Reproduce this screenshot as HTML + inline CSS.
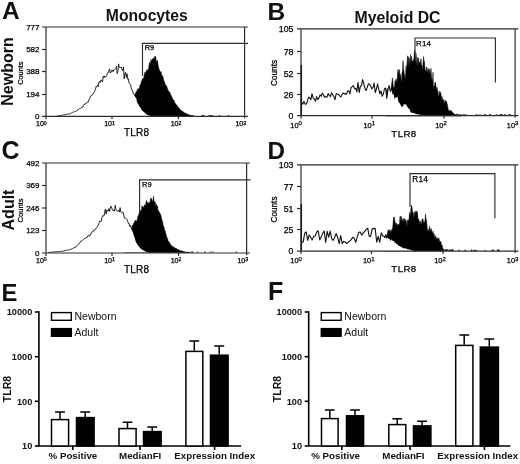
<!DOCTYPE html>
<html><head><meta charset="utf-8"><title>Figure</title>
<style>
html,body{margin:0;padding:0;background:#fff;}
body{width:520px;height:464px;overflow:hidden;font-family:"Liberation Sans",sans-serif;}
svg{display:block;will-change:transform;opacity:0.999;filter:blur(0.35px);font-family:"Liberation Sans",sans-serif;}
.t{font-size:8px;fill:#111;}
.s text{stroke:#000;stroke-width:0.25px;fill:#000;}
.b{font-weight:bold;fill:#111;}
</style></head><body>
<svg width="520" height="464" viewBox="0 0 520 464">
<rect width="520" height="464" fill="#fff"/>

<path d="M126 116 L126 116 L126.5 114.8 L127 113.5 L127.5 112.3 L128 111.2 L128.5 109.8 L129 108.6 L129.5 107.7 L130 105.9 L130.5 104.7 L131 103.8 L131.5 102.5 L132 101 L132.5 100 L133 98.8 L133.5 98.1 L134 96 L134.5 94.9 L135 94 L135.5 94.2 L136 91.6 L136.5 91.7 L137 91.2 L137.5 88.8 L138 89.4 L138.5 89.5 L139 88 L139.5 88.6 L140 85 L140.5 84.7 L141 83.6 L141.5 80.7 L142 81.7 L142.5 78.6 L143 80.1 L143.5 77.8 L144 77.3 L144.5 73.7 L145 72.3 L145.5 73.5 L146 71.3 L146.5 71.4 L147 69.5 L147.5 70.1 L148 70.2 L148.5 69.4 L149 65.7 L149.5 62.3 L150 63.9 L150.5 63.9 L151 59.6 L151.5 60.9 L152 60.1 L152.5 58.9 L153 58.5 L153.5 58.3 L154 59.6 L154.5 56.6 L155 57.8 L155.5 56.2 L156 59.4 L156.5 62.5 L157 61.3 L157.5 60.5 L158 64.9 L158.5 67.2 L159 69.1 L159.5 70.5 L160 71 L160.5 73.2 L161 71.7 L161.5 74.9 L162 75.8 L162.5 75.8 L163 77.1 L163.5 80 L164 80.9 L164.5 81.9 L165 83.8 L165.5 86 L166 85.2 L166.5 86 L167 87.4 L167.5 89.3 L168 89.9 L168.5 91.1 L169 92 L169.5 92 L170 92.9 L170.5 94.3 L171 95.3 L171.5 96.2 L172 97.5 L172.5 98.4 L173 99.6 L173.5 100.3 L174 100.3 L174.5 101.8 L175 103.1 L175.5 103.8 L176 104.6 L176.5 104.9 L177 105.5 L177.5 106.6 L178 106.8 L178.5 107.7 L179 108 L179.5 108.9 L180 109.3 L180.5 110.1 L181 110.4 L181.5 110.7 L182 110.9 L182.5 111.3 L183 111.9 L183.5 112 L184 112.4 L184.5 112.8 L185 113.1 L185.5 113.3 L186 113.6 L186.5 113.8 L187 114 L187.5 114.2 L188 114.4 L188.5 114.6 L189 114.8 L189.5 115 L190 115.2 L190.5 115.4 L191 115.5 L191.5 115.6 L192 115.7 L192.5 115.7 L193 115.8 L193.5 115.9 L194 116 L194 116Z" fill="#000" stroke="#000" stroke-width="0.6" stroke-linejoin="round"/>
<rect x="218.6" y="115" width="1.5" height="1" fill="#333"/>
<rect x="208.6" y="115" width="1.5" height="1" fill="#333"/>
<rect x="227.9" y="115" width="1.5" height="1" fill="#333"/>
<rect x="201.4" y="115" width="1.5" height="1" fill="#333"/>
<rect x="202.9" y="115" width="1.5" height="1" fill="#333"/>
<rect x="210.3" y="115" width="1.5" height="1" fill="#333"/>
<rect x="211.4" y="115" width="1.5" height="1" fill="#333"/>
<path d="M57 116 L57 116 L57.7 115.9 L58.4 115.8 L59.1 115.7 L59.8 115.6 L60.5 115.5 L61.2 115.4 L61.9 115.2 L62.6 115.2 L63.3 114.9 L64 114.8 L64.7 114.7 L65.4 114.6 L66.1 114.4 L66.8 114.4 L67.5 114.1 L68.2 114 L68.9 114 L69.6 113.8 L70.3 113.7 L71 113.2 L71.7 112.7 L72.4 112.4 L73.1 112.3 L73.8 112 L74.5 111.4 L75.2 111.5 L75.9 111.4 L76.6 110.9 L77.3 110 L78 110 L78.7 109.2 L79.4 108.7 L80.1 108.4 L80.8 108.4 L81.5 107.4 L82.2 107 L82.9 107.1 L83.6 105.4 L84.3 103.9 L85 104.4 L85.7 103.6 L86.4 103.7 L87.1 102.2 L87.8 102.1 L88.5 101.9 L89.2 98.9 L89.9 98.4 L90.6 96.1 L91.3 95.5 L92 95.4 L92.7 94.1 L93.4 93.8 L94.1 92.2 L94.8 90.9 L95.5 89.2 L96.2 86.4 L96.9 87.1 L97.6 85 L98.3 86.4 L99 81.9 L99.7 81.5 L100.4 82.6 L101.1 79.8 L101.8 80.8 L102.5 81.9 L103.2 76.3 L103.9 77.8 L104.6 75.9 L105.3 76.9 L106 76.9 L106.7 75.5 L107.4 73.1 L108.1 73.1 L108.8 71.2 L109.5 68.8 L110.2 73 L110.9 72.8 L111.6 70.3 L112.3 70.1 L113 71.8 L113.7 70 L114.4 69.9 L115.1 69.2 L115.8 68.6 L116.5 66.4 L117.2 73.6 L117.9 71.5 L118.6 63.9 L119.3 67.3 L120 67.6 L120.7 67.3 L121.4 67 L122.1 69.7 L122.8 70.8 L123.5 66.9 L124.2 78.9 L124.9 73.4 L125.6 72.3 L126.3 77.4 L127 73.6 L127.7 79.3 L128.4 78.8 L129.1 83.4 L129.8 83.7 L130.5 84.5 L131.2 87.8 L131.9 89.9 L132.6 90.8 L133.3 93.7 L134 93.7 L134.7 95.6 L135.4 97.8 L136.1 97.6 L136.8 101.3 L137.5 103.2 L138.2 104.1 L138.9 105.3 L139.6 107.1 L140.3 107.2 L141 109.1 L141.7 109.9 L142.4 111 L143.1 111.3 L143.8 111.9 L144.5 112.5 L145.2 113.3 L145.9 113.9 L146.6 114.3 L147.3 114.9 L148 115.1 L148.7 115.4 L149.4 115.6 L150.1 115.7 L150.8 115.9 L150.8 116Z" fill="#fff" stroke="none"/>
<path d="M57 116 L57.7 115.9 L58.4 115.8 L59.1 115.7 L59.8 115.6 L60.5 115.5 L61.2 115.4 L61.9 115.2 L62.6 115.2 L63.3 114.9 L64 114.8 L64.7 114.7 L65.4 114.6 L66.1 114.4 L66.8 114.4 L67.5 114.1 L68.2 114 L68.9 114 L69.6 113.8 L70.3 113.7 L71 113.2 L71.7 112.7 L72.4 112.4 L73.1 112.3 L73.8 112 L74.5 111.4 L75.2 111.5 L75.9 111.4 L76.6 110.9 L77.3 110 L78 110 L78.7 109.2 L79.4 108.7 L80.1 108.4 L80.8 108.4 L81.5 107.4 L82.2 107 L82.9 107.1 L83.6 105.4 L84.3 103.9 L85 104.4 L85.7 103.6 L86.4 103.7 L87.1 102.2 L87.8 102.1 L88.5 101.9 L89.2 98.9 L89.9 98.4 L90.6 96.1 L91.3 95.5 L92 95.4 L92.7 94.1 L93.4 93.8 L94.1 92.2 L94.8 90.9 L95.5 89.2 L96.2 86.4 L96.9 87.1 L97.6 85 L98.3 86.4 L99 81.9 L99.7 81.5 L100.4 82.6 L101.1 79.8 L101.8 80.8 L102.5 81.9 L103.2 76.3 L103.9 77.8 L104.6 75.9 L105.3 76.9 L106 76.9 L106.7 75.5 L107.4 73.1 L108.1 73.1 L108.8 71.2 L109.5 68.8 L110.2 73 L110.9 72.8 L111.6 70.3 L112.3 70.1 L113 71.8 L113.7 70 L114.4 69.9 L115.1 69.2 L115.8 68.6 L116.5 66.4 L117.2 73.6 L117.9 71.5 L118.6 63.9 L119.3 67.3 L120 67.6 L120.7 67.3 L121.4 67 L122.1 69.7 L122.8 70.8 L123.5 66.9 L124.2 78.9 L124.9 73.4 L125.6 72.3 L126.3 77.4 L127 73.6 L127.7 79.3 L128.4 78.8 L129.1 83.4 L129.8 83.7 L130.5 84.5 L131.2 87.8 L131.9 89.9 L132.6 90.8 L133.3 93.7 L134 93.7 L134.7 95.6" fill="none" stroke="#111" stroke-width="0.9" stroke-linejoin="round"/>
<g stroke="#2e2e2e" stroke-width="1.2" fill="none">
<path d="M42.0 27.0H247.9M244.6 27.0V118.3M42.0 116.3H247.9M46.0 27.0V116.3"/>
<path d="M42.0 94.5H46.0"/>
<path d="M42.0 71.5H46.0"/>
<path d="M42.0 49.5H46.0"/>
<path d="M46.0 116.3V119.3"/>
<path d="M112.0 116.3V119.3"/>
<path d="M178.5 116.3V119.3"/>
</g>
<g class="s">
<text x="39.5" y="119" text-anchor="end" font-size="8" fill="#111">0</text>
<text x="39.5" y="97.2" text-anchor="end" font-size="8" fill="#111">194</text>
<text x="39.5" y="74.2" text-anchor="end" font-size="8" fill="#111">388</text>
<text x="39.5" y="52.2" text-anchor="end" font-size="8" fill="#111">582</text>
<text x="39.5" y="29.7" text-anchor="end" font-size="8" fill="#111">777</text>
<text x="36" y="126.3" font-size="7" fill="#111">10<tspan dy="-1.6" font-size="5.2">0</tspan></text>
<text x="104.2" y="126.3" font-size="7" fill="#111">10<tspan dy="-1.6" font-size="5.2">1</tspan></text>
<text x="170.7" y="126.3" font-size="7" fill="#111">10<tspan dy="-1.6" font-size="5.2">2</tspan></text>
<text x="235.4" y="126.3" font-size="7" fill="#111">10<tspan dy="-1.6" font-size="5.2">3</tspan></text>
<text transform="translate(23 73.15) rotate(-90)" text-anchor="middle" font-size="7.4" fill="#111">Counts</text>
<text x="136.6" y="136.3" text-anchor="middle" font-size="10" fill="#000" letter-spacing="0.2">TLR8</text>
</g>
<path d="M142.5 76V43.3H248" fill="none" stroke="#2e2e2e" stroke-width="1.15"/>
<g class="s"><text x="144.7" y="50.4" font-size="7.4" fill="#111">R9</text></g>
<path d="M124 252.5 L124 252.5 L124.5 251.1 L125 249.7 L125.5 248 L126 246.5 L126.5 245 L127 243.6 L127.5 242.6 L128 239.9 L128.5 238.4 L129 237.6 L129.5 237 L130 234.5 L130.5 232.9 L131 230.9 L131.5 229.6 L132 228.5 L132.5 225.2 L133 226.6 L133.5 223.2 L134 224.7 L134.5 221.5 L135 221.5 L135.5 220 L136 220.6 L136.5 221.3 L137 221.4 L137.5 218 L138 216.2 L138.5 215.1 L139 214.3 L139.5 211.7 L140 210.1 L140.5 213.5 L141 210.1 L141.5 211.5 L142 205.7 L142.5 206.9 L143 206.9 L143.5 208 L144 206.4 L144.5 204.7 L145 205.5 L145.5 206.9 L146 202.3 L146.5 200.5 L147 202.6 L147.5 203.2 L148 202.4 L148.5 203.5 L149 204 L149.5 202.1 L150 203.1 L150.5 199.1 L151 198 L151.5 199 L152 199.8 L152.5 201.4 L153 201.3 L153.5 196.5 L154 201.4 L154.5 202.7 L155 201.5 L155.5 204.5 L156 206.9 L156.5 204.3 L157 207.7 L157.5 206.1 L158 213.3 L158.5 210.4 L159 211.5 L159.5 213 L160 213.2 L160.5 214.4 L161 216 L161.5 218.6 L162 220.2 L162.5 221.8 L163 224.4 L163.5 226 L164 227.4 L164.5 230.2 L165 230.5 L165.5 232.2 L166 234.7 L166.5 236.2 L167 238.6 L167.5 238.3 L168 240.8 L168.5 241.3 L169 241.9 L169.5 243 L170 243.5 L170.5 244.5 L171 245.1 L171.5 246.1 L172 245.7 L172.5 246.5 L173 246.7 L173.5 247 L174 247.7 L174.5 247.8 L175 247.7 L175.5 248.4 L176 248.4 L176.5 248.6 L177 249 L177.5 249.4 L178 249.4 L178.5 249.8 L179 250.1 L179.5 250.3 L180 250.5 L180.5 250.7 L181 250.7 L181.5 250.9 L182 251 L182.5 251.2 L183 251.2 L183.5 251.5 L184 251.6 L184.5 251.8 L185 251.9 L185.5 252 L186 252 L186.5 252.1 L187 252.2 L187.5 252.2 L188 252.2 L188.5 252.3 L189 252.3 L189.5 252.4 L190 252.4 L190.5 252.5 L190.5 252.5Z" fill="#000" stroke="#000" stroke-width="0.6" stroke-linejoin="round"/>
<rect x="209.8" y="251.5" width="1.5" height="1" fill="#333"/>
<rect x="235.6" y="251.5" width="1.5" height="1" fill="#333"/>
<rect x="212.2" y="251.5" width="1.5" height="1" fill="#333"/>
<rect x="196.8" y="251.5" width="1.5" height="1" fill="#333"/>
<rect x="204.1" y="251.5" width="1.5" height="1" fill="#333"/>
<rect x="191" y="251.5" width="1.5" height="1" fill="#333"/>
<rect x="192.1" y="251.5" width="1.5" height="1" fill="#333"/>
<path d="M48 252.5 L48 252.5 L48.7 252.4 L49.4 252.4 L50.1 252.3 L50.8 252.2 L51.5 252.2 L52.2 252.1 L52.9 252.1 L53.6 252 L54.3 251.9 L55 251.9 L55.7 251.8 L56.4 251.8 L57.1 251.7 L57.8 251.6 L58.5 251.6 L59.2 251.5 L59.9 251.5 L60.6 251.4 L61.3 251.3 L62 251.3 L62.7 251.2 L63.4 251.1 L64.1 250.8 L64.8 250.6 L65.5 250.6 L66.2 250.3 L66.9 250.3 L67.6 250 L68.3 249.9 L69 249.6 L69.7 249.9 L70.4 249.4 L71.1 249.2 L71.8 248.8 L72.5 248.6 L73.2 248.3 L73.9 247.8 L74.6 247.3 L75.3 247.8 L76 246.6 L76.7 245.7 L77.4 245.1 L78.1 244.5 L78.8 244.2 L79.5 243.4 L80.2 242 L80.9 241.1 L81.6 240.9 L82.3 240.6 L83 239.6 L83.7 239.3 L84.4 238.4 L85.1 238.2 L85.8 238.2 L86.5 237.2 L87.2 237.6 L87.9 235.9 L88.6 235.1 L89.3 236.3 L90 234.7 L90.7 234.9 L91.4 232.5 L92.1 231.8 L92.8 231.9 L93.5 230.1 L94.2 230.5 L94.9 229.9 L95.6 229 L96.3 227.8 L97 227.2 L97.7 225.7 L98.4 225.4 L99.1 222.6 L99.8 221 L100.5 221.6 L101.2 221.6 L101.9 217.6 L102.6 215.7 L103.3 215.9 L104 216.1 L104.7 212.1 L105.4 209.1 L106.1 214.2 L106.8 209.9 L107.5 210.8 L108.2 211.3 L108.9 208.6 L109.6 211.3 L110.3 208.1 L111 206.1 L111.7 207.9 L112.4 209.5 L113.1 210.9 L113.8 209.8 L114.5 211.1 L115.2 205.2 L115.9 208.8 L116.6 210.5 L117.3 211.2 L118 211 L118.7 210.1 L119.4 212.1 L120.1 207.6 L120.8 212.1 L121.5 212.7 L122.2 212.2 L122.9 212.1 L123.6 213.9 L124.3 218.2 L125 217.7 L125.7 218.5 L126.4 218.6 L127.1 219.6 L127.8 221.7 L128.5 223.7 L129.2 223.5 L129.9 226.7 L130.6 225.4 L131.3 228 L132 230.3 L132.7 231.8 L133.4 234.3 L134.1 236.4 L134.8 238 L135.5 241 L136.2 242.7 L136.9 243.5 L137.6 244.9 L138.3 245.7 L139 246.5 L139.7 247.5 L140.4 248.2 L141.1 249.1 L141.8 249.3 L142.5 249.9 L143.2 250.3 L143.9 250.6 L144.6 251 L145.3 251.5 L146 251.8 L146.7 251.9 L147.4 252.1 L148.1 252.2 L148.8 252.4 L149.5 252.5 L149.5 252.5Z" fill="#fff" stroke="none"/>
<path d="M48 252.5 L48.7 252.4 L49.4 252.4 L50.1 252.3 L50.8 252.2 L51.5 252.2 L52.2 252.1 L52.9 252.1 L53.6 252 L54.3 251.9 L55 251.9 L55.7 251.8 L56.4 251.8 L57.1 251.7 L57.8 251.6 L58.5 251.6 L59.2 251.5 L59.9 251.5 L60.6 251.4 L61.3 251.3 L62 251.3 L62.7 251.2 L63.4 251.1 L64.1 250.8 L64.8 250.6 L65.5 250.6 L66.2 250.3 L66.9 250.3 L67.6 250 L68.3 249.9 L69 249.6 L69.7 249.9 L70.4 249.4 L71.1 249.2 L71.8 248.8 L72.5 248.6 L73.2 248.3 L73.9 247.8 L74.6 247.3 L75.3 247.8 L76 246.6 L76.7 245.7 L77.4 245.1 L78.1 244.5 L78.8 244.2 L79.5 243.4 L80.2 242 L80.9 241.1 L81.6 240.9 L82.3 240.6 L83 239.6 L83.7 239.3 L84.4 238.4 L85.1 238.2 L85.8 238.2 L86.5 237.2 L87.2 237.6 L87.9 235.9 L88.6 235.1 L89.3 236.3 L90 234.7 L90.7 234.9 L91.4 232.5 L92.1 231.8 L92.8 231.9 L93.5 230.1 L94.2 230.5 L94.9 229.9 L95.6 229 L96.3 227.8 L97 227.2 L97.7 225.7 L98.4 225.4 L99.1 222.6 L99.8 221 L100.5 221.6 L101.2 221.6 L101.9 217.6 L102.6 215.7 L103.3 215.9 L104 216.1 L104.7 212.1 L105.4 209.1 L106.1 214.2 L106.8 209.9 L107.5 210.8 L108.2 211.3 L108.9 208.6 L109.6 211.3 L110.3 208.1 L111 206.1 L111.7 207.9 L112.4 209.5 L113.1 210.9 L113.8 209.8 L114.5 211.1 L115.2 205.2 L115.9 208.8 L116.6 210.5 L117.3 211.2 L118 211 L118.7 210.1 L119.4 212.1 L120.1 207.6 L120.8 212.1 L121.5 212.7 L122.2 212.2 L122.9 212.1 L123.6 213.9 L124.3 218.2 L125 217.7 L125.7 218.5 L126.4 218.6 L127.1 219.6 L127.8 221.7 L128.5 223.7 L129.2 223.5 L129.9 226.7 L130.6 225.4 L131.3 228 L132 230.3" fill="none" stroke="#111" stroke-width="0.9" stroke-linejoin="round"/>
<g stroke="#2e2e2e" stroke-width="1.2" fill="none">
<path d="M42.0 163.0H249.9M246.6 163.0V255.0M42.0 253.0H249.9M46.0 163.0V253.0"/>
<path d="M42.0 230.5H46.0"/>
<path d="M42.0 208.0H46.0"/>
<path d="M42.0 185.5H46.0"/>
<path d="M46.0 253.0V256.0"/>
<path d="M112.0 253.0V256.0"/>
<path d="M178.5 253.0V256.0"/>
</g>
<g class="s">
<text x="39.5" y="255.7" text-anchor="end" font-size="8" fill="#111">0</text>
<text x="39.5" y="233.2" text-anchor="end" font-size="8" fill="#111">123</text>
<text x="39.5" y="210.7" text-anchor="end" font-size="8" fill="#111">246</text>
<text x="39.5" y="188.2" text-anchor="end" font-size="8" fill="#111">369</text>
<text x="39.5" y="165.7" text-anchor="end" font-size="8" fill="#111">492</text>
<text x="36" y="263" font-size="7" fill="#111">10<tspan dy="-1.6" font-size="5.2">0</tspan></text>
<text x="104.2" y="263" font-size="7" fill="#111">10<tspan dy="-1.6" font-size="5.2">1</tspan></text>
<text x="170.7" y="263" font-size="7" fill="#111">10<tspan dy="-1.6" font-size="5.2">2</tspan></text>
<text x="237.4" y="263" font-size="7" fill="#111">10<tspan dy="-1.6" font-size="5.2">3</tspan></text>
<text transform="translate(23 210.5) rotate(-90)" text-anchor="middle" font-size="7.6" fill="#111">Counts</text>
<text x="136.6" y="272.7" text-anchor="middle" font-size="10" fill="#000" letter-spacing="0.2">TLR8</text>
</g>
<path d="M139.6 212V179.8H250.5" fill="none" stroke="#2e2e2e" stroke-width="1.15"/>
<g class="s"><text x="142" y="186.6" font-size="7.5" fill="#111">R9</text></g>
<path d="M386 116 L386 92 L386.5 90.4 L387 88.9 L387.5 89.4 L388 88.3 L388.5 89 L389 91.7 L389.5 88.1 L390 89.9 L390.5 90 L391 88.9 L391.5 85.3 L392 81.3 L392.5 77.9 L393 83.6 L393.5 88 L394 87 L394.5 88.3 L395 80.7 L395.5 82.3 L396 78.9 L396.5 80.9 L397 82.8 L397.5 73.4 L398 69.2 L398.5 72.4 L399 73.5 L399.5 69.6 L400 78.2 L400.5 74.4 L401 79.6 L401.5 82.2 L402 72.8 L402.5 71.5 L403 60.7 L403.5 69.2 L404 70.9 L404.5 78.5 L405 74.4 L405.5 81.2 L406 65.8 L406.5 72.4 L407 63.2 L407.5 55.8 L408 67.3 L408.5 56.7 L409 67.5 L409.5 58.4 L410 64.4 L410.5 54.4 L411 65 L411.5 56.2 L412 61.2 L412.5 60.7 L413 62.3 L413.5 59.5 L414 58.4 L414.5 49.9 L415 51.9 L415.5 64.5 L416 53.3 L416.5 61.4 L417 65.8 L417.5 57.2 L418 67.9 L418.5 58 L419 61.7 L419.5 62.4 L420 63 L420.5 61.8 L421 58.8 L421.5 66.8 L422 65 L422.5 71.7 L423 64 L423.5 56.5 L424 60.9 L424.5 61.4 L425 69.7 L425.5 70.8 L426 70.4 L426.5 66.8 L427 72.7 L427.5 72.1 L428 67.9 L428.5 71.3 L429 69.8 L429.5 69.2 L430 75.1 L430.5 73.1 L431 68.3 L431.5 77.5 L432 79.6 L432.5 82.7 L433 72.2 L433.5 90.4 L434 86.1 L434.5 86.1 L435 82.2 L435.5 82.4 L436 86.3 L436.5 91.4 L437 87.3 L437.5 89.8 L438 91.7 L438.5 96.2 L439 95.2 L439.5 91.6 L440 91.5 L440.5 92.6 L441 94.1 L441.5 99.5 L442 96.4 L442.5 100.1 L443 99.2 L443.5 99.8 L444 102 L444.5 103.6 L445 100 L445.5 100.9 L446 102.5 L446.5 101.2 L447 103.5 L447.5 105.5 L448 108.1 L448.5 110.7 L449 111 L449.5 110.9 L450 110 L450.5 111.2 L451 110.4 L451.5 111.5 L452 111.4 L452.5 112.8 L453 112.5 L453.5 113.4 L454 113.8 L454.5 114.2 L455 114 L455.5 114.7 L456 114.2 L456.5 114.3 L457 114.5 L457.5 114.3 L458 114.5 L458.5 114.4 L459 114.8 L459.5 114.9 L460 114.6 L460.5 114.5 L461 114.8 L461.5 114.8 L462 115 L462 116Z" fill="#000" stroke="#000" stroke-width="0.5" stroke-linejoin="round"/>
<rect x="496.3" y="114.7" width="1.6" height="1.3" fill="#222"/>
<rect x="507.4" y="114.7" width="1.8" height="1.3" fill="#222"/>
<rect x="480.3" y="114.8" width="1.7" height="1.2" fill="#222"/>
<rect x="488.9" y="114.2" width="2" height="1.8" fill="#222"/>
<rect x="465.2" y="114.6" width="2" height="1.4" fill="#222"/>
<rect x="476.4" y="114.9" width="2.9" height="1.1" fill="#222"/>
<rect x="466.5" y="115.2" width="2.8" height="0.8" fill="#222"/>
<rect x="494" y="114.9" width="1.4" height="1.1" fill="#222"/>
<rect x="484.1" y="114.1" width="1.6" height="1.9" fill="#222"/>
<rect x="481.8" y="114.9" width="2.9" height="1.1" fill="#222"/>
<rect x="478" y="114.7" width="2.6" height="1.3" fill="#222"/>
<rect x="481.4" y="115" width="2" height="1" fill="#222"/>
<rect x="508.8" y="114.2" width="2.3" height="1.8" fill="#222"/>
<rect x="488.8" y="115" width="2" height="1" fill="#222"/>
<rect x="504.3" y="115" width="3.5" height="1" fill="#222"/>
<rect x="501.1" y="114.4" width="1.9" height="1.6" fill="#222"/>
<rect x="463.4" y="114.8" width="2.9" height="1.2" fill="#222"/>
<rect x="475.7" y="114.2" width="1.5" height="1.8" fill="#222"/>
<rect x="499.4" y="114.2" width="2.8" height="1.8" fill="#222"/>
<rect x="466.6" y="114.9" width="1.2" height="1.1" fill="#222"/>
<rect x="462.6" y="114.3" width="2.2" height="1.7" fill="#222"/>
<rect x="495.2" y="114.9" width="1.9" height="1.1" fill="#222"/>
<rect x="504.3" y="114" width="1.3" height="2" fill="#222"/>
<rect x="496.4" y="114.5" width="1" height="1.5" fill="#222"/>
<path d="M301.7 116 L301.7 102.4 L302.8 104.1 L304 101.4 L305.1 104.1 L306.3 104.1 L307.4 101.2 L308.6 97.1 L309.7 97.8 L310.9 99.6 L312 93.7 L313.2 98.1 L314.3 98.9 L315.5 101.2 L316.6 96.6 L317.8 99.6 L318.9 97.9 L320.1 95 L321.2 96.1 L322.4 93.1 L323.5 95.1 L324.7 97.1 L325.8 96.8 L327 97.2 L328.1 93.6 L329.3 95.4 L330.4 96.7 L331.6 92.7 L332.7 94.9 L333.9 96.5 L335 99.7 L336.2 93.5 L337.3 94 L338.5 94.4 L339.6 95.8 L340.8 96.9 L341.9 94.7 L343.1 93 L344.2 93.9 L345.4 93.6 L346.5 94.3 L347.7 91 L348.8 90.8 L350 93.9 L351.1 87.5 L352.3 86.6 L353.4 85.6 L354.6 88.7 L355.7 88.2 L356.9 91.7 L358 82.4 L359.2 92.6 L360.3 86.4 L361.5 85.7 L362.6 79.6 L363.8 83.6 L364.9 88.2 L366.1 90.6 L367.2 87.4 L368.4 83.7 L369.5 84.4 L370.7 86.1 L371.8 88.9 L373 87.4 L374.1 83 L375.3 92.7 L376.4 89 L377.6 83.9 L378.7 89.2 L379.9 93.9 L381 90.9 L382.2 96.3 L383.3 94 L384.5 88.7 L385.6 88 L386.8 98.4 L387.9 89.6 L389.1 85.6 L390.4 91.7 L391.1 91.8 L391.8 89.6 L392.5 94.9 L393.2 93.5 L393.9 95.3 L394.6 99.8 L395.3 96.9 L396 97.9 L396.7 97.1 L397.4 96.5 L398.1 100 L398.8 102.7 L399.5 102.8 L400.2 104.3 L400.9 105.5 L401.6 106.8 L402.3 106.3 L403 107.1 L403.7 103.9 L404.4 104.3 L405.1 104.9 L405.8 103.8 L406.5 105.3 L407.2 106.8 L407.9 107.4 L408.6 108.7 L409.3 108.6 L410 110.6 L410.7 112.5 L411.4 112.8 L412.1 112.4 L412.8 112.9 L413.5 113.1 L414.2 113.2 L414.9 113.2 L415.6 114 L416.3 114.1 L417 114.2 L417.7 114.2 L418.4 114.5 L419.1 114.6 L419.8 114.8 L420.5 114.7 L421.2 114.9 L421.9 115.1 L422.6 115.1 L423.3 115.4 L424 115.5 L424.7 115.6 L424.7 116Z" fill="#fff" stroke="none"/>
<path d="M301.7 102.4 L302.8 104.1 L304 101.4 L305.1 104.1 L306.3 104.1 L307.4 101.2 L308.6 97.1 L309.7 97.8 L310.9 99.6 L312 93.7 L313.2 98.1 L314.3 98.9 L315.5 101.2 L316.6 96.6 L317.8 99.6 L318.9 97.9 L320.1 95 L321.2 96.1 L322.4 93.1 L323.5 95.1 L324.7 97.1 L325.8 96.8 L327 97.2 L328.1 93.6 L329.3 95.4 L330.4 96.7 L331.6 92.7 L332.7 94.9 L333.9 96.5 L335 99.7 L336.2 93.5 L337.3 94 L338.5 94.4 L339.6 95.8 L340.8 96.9 L341.9 94.7 L343.1 93 L344.2 93.9 L345.4 93.6 L346.5 94.3 L347.7 91 L348.8 90.8 L350 93.9 L351.1 87.5 L352.3 86.6 L353.4 85.6 L354.6 88.7 L355.7 88.2 L356.9 91.7 L358 82.4 L359.2 92.6 L360.3 86.4 L361.5 85.7 L362.6 79.6 L363.8 83.6 L364.9 88.2 L366.1 90.6 L367.2 87.4 L368.4 83.7 L369.5 84.4 L370.7 86.1 L371.8 88.9 L373 87.4 L374.1 83 L375.3 92.7 L376.4 89 L377.6 83.9 L378.7 89.2 L379.9 93.9 L381 90.9 L382.2 96.3 L383.3 94 L384.5 88.7 L385.6 88 L386.8 98.4 L387.9 89.6 L389.1 85.6 L390.4 91.7" fill="none" stroke="#111" stroke-width="1.1" stroke-linejoin="round"/>
<path d="M301.3 116V65" stroke="#000" stroke-width="1.5"/>
<g stroke="#2e2e2e" stroke-width="1.2" fill="none">
<path d="M297.0 28.8H518.4M515.1 28.8V117.7M297.0 115.7H518.4M301.0 28.8V115.7"/>
<path d="M297.0 94.5H301.0"/>
<path d="M297.0 73.5H301.0"/>
<path d="M297.0 51.5H301.0"/>
<path d="M301.0 115.7V118.7"/>
<path d="M372.0 115.7V118.7"/>
<path d="M444.0 115.7V118.7"/>
</g>
<g class="s">
<text x="293.5" y="118.7" text-anchor="end" font-size="8.8" fill="#111">0</text>
<text x="293.5" y="97.5" text-anchor="end" font-size="8.8" fill="#111">26</text>
<text x="293.5" y="76.5" text-anchor="end" font-size="8.8" fill="#111">52</text>
<text x="293.5" y="54.5" text-anchor="end" font-size="8.8" fill="#111">78</text>
<text x="293.5" y="31.8" text-anchor="end" font-size="8.8" fill="#111">105</text>
<text x="290.3" y="127.6" font-size="7.4" fill="#111">10<tspan dy="-2.2" font-size="6">0</tspan></text>
<text x="363.5" y="127.6" font-size="7.4" fill="#111">10<tspan dy="-2.2" font-size="6">1</tspan></text>
<text x="435.2" y="127.6" font-size="7.4" fill="#111">10<tspan dy="-2.2" font-size="6">2</tspan></text>
<text x="506.8" y="127.6" font-size="7.4" fill="#111">10<tspan dy="-2.2" font-size="6">3</tspan></text>
<text transform="translate(277 72.95) rotate(-90)" text-anchor="middle" font-size="8.2" fill="#111">Counts</text>
<text x="404" y="136.5" text-anchor="middle" font-size="9.7" fill="#000" letter-spacing="0.4">TLR8</text>
</g>
<path d="M415 55V38H495.4V82.5" fill="none" stroke="#2e2e2e" stroke-width="1.15"/>
<g class="s"><text x="415.9" y="46.4" font-size="7.9" letter-spacing="0.3" fill="#111">R14</text></g>
<path d="M383 251 L383 237 L383.5 237.8 L384 238 L384.5 236.9 L385 236.5 L385.5 234.6 L386 234.3 L386.5 235.3 L387 237.2 L387.5 233.1 L388 229.9 L388.5 230.2 L389 232.4 L389.5 229.5 L390 231.8 L390.5 230.4 L391 233.1 L391.5 230.5 L392 229 L392.5 229 L393 224.2 L393.5 217.9 L394 216.8 L394.5 218 L395 221.7 L395.5 222.8 L396 225.3 L396.5 223.3 L397 223.6 L397.5 225.8 L398 224.6 L398.5 224.3 L399 224.8 L399.5 224 L400 216.1 L400.5 216.4 L401 221.9 L401.5 216.5 L402 220.4 L402.5 219.6 L403 222 L403.5 218.6 L404 218.6 L404.5 218.8 L405 222.7 L405.5 219.6 L406 220.1 L406.5 221.6 L407 227 L407.5 220.6 L408 219.6 L408.5 220.7 L409 220.1 L409.5 212.4 L410 216 L410.5 213.9 L411 207.3 L411.5 205.3 L412 206.9 L412.5 213 L413 212.1 L413.5 214.2 L414 218 L414.5 212.7 L415 211.4 L415.5 214.3 L416 210.8 L416.5 212.7 L417 211.4 L417.5 213 L418 219 L418.5 219 L419 220.2 L419.5 225.4 L420 220.8 L420.5 222 L421 224 L421.5 223.4 L422 219.5 L422.5 219 L423 218.7 L423.5 222.3 L424 222.5 L424.5 222.3 L425 220.4 L425.5 213.8 L426 218.9 L426.5 220.1 L427 226 L427.5 232.1 L428 229.2 L428.5 230.8 L429 230.4 L429.5 226 L430 231.7 L430.5 229.8 L431 228.4 L431.5 229.6 L432 232.1 L432.5 233.4 L433 231.2 L433.5 236.1 L434 233.4 L434.5 236.6 L435 238 L435.5 235.6 L436 239 L436.5 239.3 L437 237.3 L437.5 239.6 L438 239.1 L438.5 238.2 L439 238 L439.5 241.4 L440 241.3 L440.5 241.4 L441 242 L441.5 246 L442 244.8 L442.5 247.3 L443 248.3 L443.5 249.3 L444 250.3 L444 251Z" fill="#000" stroke="#000" stroke-width="0.5" stroke-linejoin="round"/>
<rect x="496.9" y="249.5" width="2.7" height="1.5" fill="#222"/>
<rect x="445.1" y="249.2" width="2.7" height="1.8" fill="#222"/>
<rect x="470.9" y="249.5" width="1.4" height="1.5" fill="#222"/>
<rect x="491.6" y="249.6" width="2.5" height="1.4" fill="#222"/>
<rect x="448.5" y="249.4" width="1.6" height="1.6" fill="#222"/>
<rect x="484.7" y="250.2" width="1.3" height="0.8" fill="#222"/>
<rect x="450.1" y="249.7" width="3.2" height="1.3" fill="#222"/>
<rect x="444.2" y="249.5" width="1.1" height="1.5" fill="#222"/>
<rect x="458.4" y="249.8" width="1.4" height="1.2" fill="#222"/>
<rect x="464.4" y="249.8" width="1.7" height="1.2" fill="#222"/>
<rect x="473.3" y="249.9" width="3.4" height="1.1" fill="#222"/>
<rect x="451.8" y="249" width="1.4" height="2" fill="#222"/>
<path d="M301.7 251 L301.7 242.3 L303.2 241.9 L304.7 233.2 L306.2 231.8 L307.7 240.4 L309.2 235 L310.7 237.2 L312.2 239.9 L313.7 236.4 L315.2 236 L316.7 232 L318.2 230.8 L319.7 239.9 L321.2 237.1 L322.7 233.4 L324.2 231 L325.7 242.5 L327.2 231.3 L328.7 237.2 L330.2 231 L331.7 238.6 L333.2 240.3 L334.7 237.3 L336.2 233.5 L337.7 237.7 L339.2 243.6 L340.7 235.6 L342.2 243.6 L343.7 241.4 L345.2 242 L346.7 243.5 L348.2 242.2 L349.7 241.1 L351.2 239.6 L352.7 237.3 L354.2 238.2 L355.7 242.4 L357.2 237.1 L358.7 232.2 L360.2 232 L361.7 235.1 L363.2 232.9 L364.7 231.5 L366.2 229.4 L367.7 228.2 L369.2 236.4 L370.7 236.2 L372.2 228.7 L373.7 228.4 L375.2 228.6 L376.7 242.1 L378.2 236.4 L379.7 242.3 L381.2 232.9 L382.7 235.9 L384.2 236.2 L385 238 L385.7 236.6 L386.4 238.9 L387.1 237.5 L387.8 238.3 L388.5 238.8 L389.2 238.9 L389.9 239.6 L390.6 241.2 L391.3 239.5 L392 239.7 L392.7 240.9 L393.4 241 L394.1 240.7 L394.8 243.2 L395.5 242.8 L396.2 243.6 L396.9 244.5 L397.6 244.2 L398.3 245.5 L399 245.9 L399.7 246.1 L400.4 246.6 L401.1 247.3 L401.8 246.8 L402.5 247.9 L403.2 247.9 L403.9 248.5 L404.6 248.2 L405.3 248.3 L406 248.5 L406.7 249.1 L407.4 249.2 L408.1 249.2 L408.8 249.6 L409.5 249.6 L410.2 250 L410.9 250 L411.6 250.2 L412.3 250.4 L413 250.6 L413 251Z" fill="#fff" stroke="none"/>
<path d="M301.7 242.3 L303.2 241.9 L304.7 233.2 L306.2 231.8 L307.7 240.4 L309.2 235 L310.7 237.2 L312.2 239.9 L313.7 236.4 L315.2 236 L316.7 232 L318.2 230.8 L319.7 239.9 L321.2 237.1 L322.7 233.4 L324.2 231 L325.7 242.5 L327.2 231.3 L328.7 237.2 L330.2 231 L331.7 238.6 L333.2 240.3 L334.7 237.3 L336.2 233.5 L337.7 237.7 L339.2 243.6 L340.7 235.6 L342.2 243.6 L343.7 241.4 L345.2 242 L346.7 243.5 L348.2 242.2 L349.7 241.1 L351.2 239.6 L352.7 237.3 L354.2 238.2 L355.7 242.4 L357.2 237.1 L358.7 232.2 L360.2 232 L361.7 235.1 L363.2 232.9 L364.7 231.5 L366.2 229.4 L367.7 228.2 L369.2 236.4 L370.7 236.2 L372.2 228.7 L373.7 228.4 L375.2 228.6 L376.7 242.1 L378.2 236.4 L379.7 242.3 L381.2 232.9 L382.7 235.9 L384.2 236.2 L385 238" fill="none" stroke="#111" stroke-width="1.1" stroke-linejoin="round"/>
<path d="M301.3 251V204" stroke="#000" stroke-width="1.5"/>
<g stroke="#2e2e2e" stroke-width="1.2" fill="none">
<path d="M297.0 164.9H518.4M515.1 164.9V253.1M297.0 251.1H518.4M301.0 164.9V251.1"/>
<path d="M297.0 229.5H301.0"/>
<path d="M297.0 208.5H301.0"/>
<path d="M297.0 186.5H301.0"/>
<path d="M301.0 251.1V254.1"/>
<path d="M371.5 251.1V254.1"/>
<path d="M443.0 251.1V254.1"/>
</g>
<g class="s">
<text x="293.5" y="254.1" text-anchor="end" font-size="8.8" fill="#111">0</text>
<text x="293.5" y="232.5" text-anchor="end" font-size="8.8" fill="#111">25</text>
<text x="293.5" y="211.5" text-anchor="end" font-size="8.8" fill="#111">51</text>
<text x="293.5" y="189.5" text-anchor="end" font-size="8.8" fill="#111">77</text>
<text x="293.5" y="167.9" text-anchor="end" font-size="8.8" fill="#111">103</text>
<text x="290.3" y="263" font-size="7.4" fill="#111">10<tspan dy="-2.2" font-size="6">0</tspan></text>
<text x="363" y="263" font-size="7.4" fill="#111">10<tspan dy="-2.2" font-size="6">1</tspan></text>
<text x="434.2" y="263" font-size="7.4" fill="#111">10<tspan dy="-2.2" font-size="6">2</tspan></text>
<text x="506.8" y="263" font-size="7.4" fill="#111">10<tspan dy="-2.2" font-size="6">3</tspan></text>
<text transform="translate(277 209.5) rotate(-90)" text-anchor="middle" font-size="8.2" fill="#111">Counts</text>
<text x="404" y="271.5" text-anchor="middle" font-size="9.7" fill="#000" letter-spacing="0.4">TLR8</text>
</g>
<path d="M410 207V173.6H494.9V218.3" fill="none" stroke="#2e2e2e" stroke-width="1.15"/>
<g class="s"><text x="412.2" y="182.3" font-size="8.2" letter-spacing="0.3" fill="#111">R14</text></g>
<text class="b" x="2" y="19" font-size="24.5">A</text>
<text class="b" x="267.5" y="20" font-size="24.5">B</text>
<text class="b" x="1.5" y="158.5" font-size="25">C</text>
<text class="b" x="267.5" y="159" font-size="24.3">D</text>
<text class="b" x="1.5" y="300.5" font-size="23.8">E</text>
<text class="b" x="268" y="300" font-size="25">F</text>
<text class="b" x="146.8" y="21" font-size="15.7" text-anchor="middle">Monocytes</text>
<text class="b" x="397.5" y="23" font-size="15.8" text-anchor="middle">Myeloid DC</text>
<text class="b" transform="translate(13.4 71.5) rotate(-90)" font-size="16" text-anchor="middle">Newborn</text>
<text class="b" transform="translate(13.8 210) rotate(-90)" font-size="16" text-anchor="middle">Adult</text>
<g stroke="#000" stroke-width="1.6" fill="none">
<path d="M38.9 311.2V446H241.2"/>
<path d="M34.9 312H38.9"/>
<path d="M34.9 356.7H38.9"/>
<path d="M34.9 401.3H38.9"/>
<path d="M34.9 446H38.9"/>
<path d="M72.8 446V450"/>
<path d="M140 446V450"/>
<path d="M214.6 446V450"/>
</g>
<text class="b" x="32.3" y="315.3" font-size="9.2" text-anchor="end">10000</text>
<text class="b" x="32.3" y="360" font-size="9.2" text-anchor="end">1000</text>
<text class="b" x="32.3" y="404.6" font-size="9.2" text-anchor="end">100</text>
<text class="b" x="32.3" y="449.3" font-size="9.2" text-anchor="end">10</text>
<text class="b" transform="translate(10.7 389) rotate(-90)" font-size="10.5" text-anchor="middle">TLR8</text>
<path d="M60 419V412M55.1 412H64.9" stroke="#000" stroke-width="1.5" fill="none"/>
<rect x="51.5" y="419.6" width="17.1" height="26.4" fill="#fff" stroke="#000" stroke-width="1.5"/>
<path d="M85.2 417V412M80.3 412H90.2" stroke="#000" stroke-width="1.5" fill="none"/>
<rect x="76.5" y="417.6" width="17.6" height="28.4" fill="#000" stroke="#000" stroke-width="1.5"/>
<path d="M127.5 428V422.3M122.6 422.3H132.4" stroke="#000" stroke-width="1.5" fill="none"/>
<rect x="119" y="428.6" width="17.1" height="17.4" fill="#fff" stroke="#000" stroke-width="1.5"/>
<path d="M152.2 431V427M147.3 427H157.2" stroke="#000" stroke-width="1.5" fill="none"/>
<rect x="143.5" y="431.6" width="17.6" height="14.4" fill="#000" stroke="#000" stroke-width="1.5"/>
<path d="M194.3 350.8V341M189.4 341H199.2" stroke="#000" stroke-width="1.5" fill="none"/>
<rect x="185.9" y="351.4" width="16.9" height="94.6" fill="#fff" stroke="#000" stroke-width="1.5"/>
<path d="M219.2 354.6V346M214.3 346H224.2" stroke="#000" stroke-width="1.5" fill="none"/>
<rect x="210.5" y="355.2" width="17.6" height="90.8" fill="#000" stroke="#000" stroke-width="1.5"/>
<rect x="51.5" y="312.6" width="19.8" height="7.7" fill="#fff" stroke="#000" stroke-width="1.4"/>
<rect x="51.5" y="328.6" width="19.8" height="7.7" fill="#000" stroke="#000" stroke-width="1.4"/>
<text x="74.5" y="320" font-size="10.5" fill="#111">Newborn</text>
<text x="74.5" y="336" font-size="10.5" fill="#111">Adult</text>
<text class="b" x="72.9" y="459.3" font-size="9.75" text-anchor="middle">% Positive</text>
<text class="b" x="140.2" y="459.3" font-size="9.75" text-anchor="middle">MedianFI</text>
<text class="b" x="214.7" y="459.3" font-size="9.75" text-anchor="middle">Expression Index</text>
<g stroke="#000" stroke-width="1.6" fill="none">
<path d="M308.7 311.2V446H510.5"/>
<path d="M304.7 312H308.7"/>
<path d="M304.7 356.7H308.7"/>
<path d="M304.7 401.3H308.7"/>
<path d="M304.7 446H308.7"/>
<path d="M341.8 446V450"/>
<path d="M410 446V450"/>
<path d="M484.4 446V450"/>
</g>
<text class="b" x="302.1" y="315.3" font-size="9.2" text-anchor="end">10000</text>
<text class="b" x="302.1" y="360" font-size="9.2" text-anchor="end">1000</text>
<text class="b" x="302.1" y="404.6" font-size="9.2" text-anchor="end">100</text>
<text class="b" x="302.1" y="449.3" font-size="9.2" text-anchor="end">10</text>
<text class="b" transform="translate(280.5 389) rotate(-90)" font-size="10.5" text-anchor="middle">TLR8</text>
<path d="M329.8 418V410M324.9 410H334.6" stroke="#000" stroke-width="1.5" fill="none"/>
<rect x="321.5" y="418.6" width="16.6" height="27.4" fill="#fff" stroke="#000" stroke-width="1.5"/>
<path d="M355 415.2V410M350.1 410H359.9" stroke="#000" stroke-width="1.5" fill="none"/>
<rect x="346.5" y="415.8" width="17.1" height="30.2" fill="#000" stroke="#000" stroke-width="1.5"/>
<path d="M397.2 424V418.8M392.4 418.8H402.1" stroke="#000" stroke-width="1.5" fill="none"/>
<rect x="388.8" y="424.6" width="17" height="21.4" fill="#fff" stroke="#000" stroke-width="1.5"/>
<path d="M422.1 425.3V421.2M417.2 421.2H427" stroke="#000" stroke-width="1.5" fill="none"/>
<rect x="413.5" y="425.9" width="17.4" height="20.1" fill="#000" stroke="#000" stroke-width="1.5"/>
<path d="M464.2 344.8V335M459.4 335H469.1" stroke="#000" stroke-width="1.5" fill="none"/>
<rect x="455.7" y="345.4" width="17.2" height="100.6" fill="#fff" stroke="#000" stroke-width="1.5"/>
<path d="M489.3 346.5V339M484.4 339H494.2" stroke="#000" stroke-width="1.5" fill="none"/>
<rect x="480.3" y="347.1" width="18.1" height="98.9" fill="#000" stroke="#000" stroke-width="1.5"/>
<rect x="321.3" y="312.6" width="19.8" height="7.7" fill="#fff" stroke="#000" stroke-width="1.4"/>
<rect x="321.3" y="328.6" width="19.8" height="7.7" fill="#000" stroke="#000" stroke-width="1.4"/>
<text x="344.3" y="320" font-size="10.5" fill="#111">Newborn</text>
<text x="344.3" y="336" font-size="10.5" fill="#111">Adult</text>
<text class="b" x="335.6" y="459.3" font-size="9.75" text-anchor="middle">% Positive</text>
<text class="b" x="403.4" y="459.3" font-size="9.75" text-anchor="middle">MedianFI</text>
<text class="b" x="477.7" y="459.3" font-size="9.75" text-anchor="middle">Expression Index</text>
</svg></body></html>
